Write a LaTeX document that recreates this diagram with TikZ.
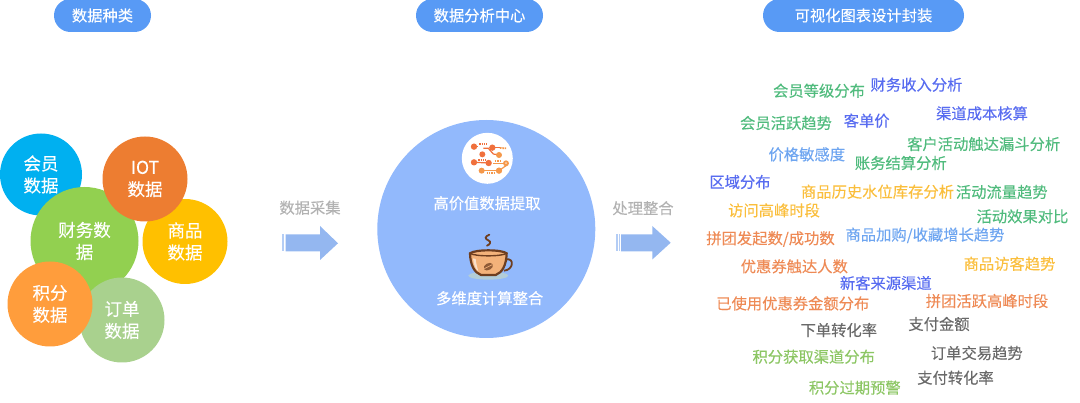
\documentclass[tikz,border=0pt]{standalone}
\usepackage{fontspec}
\setmainfont{Noto Sans CJK SC}[FakeBold=0.2]
\definecolor{PillBlue}{RGB}{88,154,245}
\definecolor{HubBlue}{RGB}{146,185,252}
\definecolor{ArrowBlue}{RGB}{148,183,240}
\definecolor{CaptionGray}{RGB}{178,178,178}
\definecolor{MemberCyan}{RGB}{0,176,240}
\definecolor{IotOrange}{RGB}{237,125,49}
\definecolor{GoodsYellow}{RGB}{255,192,0}
\definecolor{FinanceGreen}{RGB}{146,208,80}
\definecolor{PointsOrange}{RGB}{255,157,60}
\definecolor{OrderGreen}{RGB}{169,209,142}
\definecolor{WordGreen}{RGB}{80,187,125}
\definecolor{WordIndigo}{RGB}{88,108,240}
\definecolor{WordSky}{RGB}{110,165,240}
\definecolor{WordYellow}{RGB}{250,190,60}
\definecolor{WordOrange}{RGB}{238,138,85}
\definecolor{WordGray}{RGB}{105,105,105}
\definecolor{WordLime}{RGB}{140,198,100}
\definecolor{CircuitRed}{RGB}{240,112,60}
\definecolor{CircuitOrange}{RGB}{245,152,74}
\definecolor{CupBrown}{RGB}{110,62,32}
\definecolor{CupFill}{RGB}{243,178,122}
\definecolor{CupShadow}{RGB}{178,205,216}
\usepackage{tikz}
\usetikzlibrary{
    positioning
}

\begin{document}
\begin{tikzpicture}[
    x=1pt,
    y=-1pt,
    pillhead/.style={
        fill=PillBlue,
        text=white,
        rounded corners=16.5pt,
        minimum height=33pt,
        inner sep=0pt,
        font=\fontsize{15.3}{18}\selectfont
    },
    datacircle/.style={
        circle,
        inner sep=0pt,
        minimum size=85pt,
        text=white,
        align=center,
        font=\fontsize{17.5}{22}\selectfont
    },
    hubcaption/.style={
        text=white,
        inner sep=0pt,
        font=\fontsize{15.3}{18}\selectfont
    },
    flowcaption/.style={
        text=CaptionGray,
        inner sep=0pt,
        font=\fontsize{15.3}{18}\selectfont
    },
    chartword/.style={
        inner sep=0pt,
        font=\fontsize{15.3}{18}\selectfont
    }
]
%
    \useasboundingbox (0,0) rectangle (1080,403);
%
    \node[pillhead, minimum width=97pt] (pillKinds) at (102.5,15.5) {数据种类};
    \node[pillhead, minimum width=127pt] (pillCenter) at (479.5,15.5) {数据分析中心};
    \node[pillhead, minimum width=201pt] (pillCharts) at (863.5,15.5) {可视化图表设计封装};
%
    % data circles, back to front
    \node[datacircle, fill=MemberCyan, minimum size=82pt] (circMember) at (41,174.5) {会员\\数据};
    \node[datacircle, fill=FinanceGreen, minimum size=108pt] (circFinance) at (84.5,241) {财务数\\据};
    \node[datacircle, fill=GoodsYellow] (circGoods) at (185,241.5) {商品\\数据};
    \node[datacircle, fill=IotOrange] (circIot) at (145,179) {IOT\\数据};
    \node[datacircle, fill=OrderGreen] (circOrder) at (122,320) {订单\\数据};
    \node[datacircle, fill=PointsOrange] (circPoints) at (50,304) {积分\\数据};
%
    \node[
        flowcaption
    ]
    (capCollect) at (310,207.7) {数据采集};
%
    \fill[ArrowBlue]
    (285.5,234.5) -- (320,234.5) -- (320,226) -- (338,243.3)
    -- (320,260) -- (320,251.5) -- (285.5,251.5) -- cycle;
    \fill[ArrowBlue!70] (282.3,234.5) rectangle (284.3,251.5);
%
    \node[
        circle,
        fill=HubBlue,
        inner sep=0pt,
        minimum size=218pt
    ]
    (hubCircle) at (486.3,229) {};
%
    \node[
        circle,
        fill=white,
        inner sep=0pt,
        minimum size=51pt
    ]
    (iconDisc) at (487.3,158.3) {};
%
    % circuit icon
    \begin{scope}[shift={(450,130)},x=0.3333pt,y=-0.3333pt]
        \draw[CircuitRed, line width=1.2pt] (72,50) -- (85,50);
        \draw[CircuitRed, line width=2pt, dash pattern=on 1.5pt off 0.8pt] (88,43) -- (112,43);
        \draw[CircuitRed, line width=1.2pt] (127,53) -- (150,53);
        \draw[CircuitOrange, line width=1.8pt, dash pattern=on 1.5pt off 0.8pt] (150,54) -- (170,55);
        \draw[CircuitRed, line width=1.2pt] (100,55) -- (115,55) -- (130,72) -- (147,75);
        \fill[CircuitRed] (72,50) circle[radius=9.5];
        \fill[CircuitRed] (127,53) circle[radius=9.5];
        \fill[CircuitRed] (97,73) circle[radius=9];
        \fill[CircuitOrange] (147,75) circle[radius=9];
%
        \draw[CircuitRed, line width=1.2pt] (72,97) -- (116,99);
        \draw[CircuitRed, line width=2pt, dash pattern=on 1.5pt off 0.8pt] (85,90) -- (106,90);
        \fill[CircuitRed] (72,97) circle[radius=9.5];
        \fill[CircuitRed] (116,99) circle[radius=9.5];
%
        \draw[CircuitOrange, line width=2pt, dash pattern=on 1.5pt off 0.8pt] (135,92) -- (155,92);
        \draw[CircuitOrange, line width=1.2pt] (130,100) -- (160,100);
        \draw[CircuitOrange, line width=1.2pt] (168,100) -- (168,107) -- (150,120);
        \draw[CircuitOrange, line width=1.8pt] (168,100) circle[radius=6];
        \draw[CircuitOrange, line width=1.2pt] (95,122) -- (147,122);
        \draw[CircuitOrange, line width=2pt, dash pattern=on 1.5pt off 0.8pt] (110,128) -- (132,128);
        \fill[CircuitOrange] (95,122) circle[radius=9];
        \fill[CircuitOrange] (147,122) circle[radius=9.5];
    \end{scope}
%
    \node[
        hubcaption
    ]
    (capExtract) at (487,203.3) {高价值数据提取};
%
    % coffee cup icon
    \begin{scope}[shift={(455,230)},x=0.3333pt,y=-0.3333pt]
        \fill[CupShadow] (100,137) ellipse[x radius=60, y radius=12];
        \draw[CupBrown, line width=1.8pt, line cap=round]
        (103,14) .. controls (88,20) and (90,27) .. (100,31)
        .. controls (110,35) and (105,44) .. (96,47);
        \draw[CupBrown, line width=1.8pt]
        (155,88) .. controls (178,84) and (176,120) .. (147,122);
        \draw[CupBrown, fill=CupFill, line width=2.2pt]
        (45,70) .. controls (46,105) and (58,128) .. (78,135)
        -- (122,135) .. controls (142,128) and (154,105) .. (155,70)
        .. controls (140,58) and (60,58) .. (45,70) -- cycle;
        \draw[CupBrown, line width=1.4pt]
        (45,70) .. controls (60,80) and (140,80) .. (155,70);
        \fill[white!60!CupFill] (54,85) .. controls (56,105) and (62,118) .. (70,124)
        .. controls (66,110) and (63,98) .. (62,87) -- cycle;
        \fill[CupBrown!75!CupFill, rotate around={30:(100,110)}] (100,110) ellipse[x radius=15, y radius=10];
        \draw[CupFill, line width=0.6pt] (88,116) .. controls (96,112) and (104,108) .. (112,104);
    \end{scope}
%
    \node[
        hubcaption
    ]
    (capCompute) at (489.7,298.2) {多维度计算整合};
%
    \node[
        flowcaption
    ]
    (capMerge) at (643,208.2) {处理整合};
%
    \fill[ArrowBlue]
    (621,234.5) -- (652.3,234.5) -- (652.3,226) -- (670.7,242.7)
    -- (652.3,259.5) -- (652.3,251.5) -- (621,251.5) -- cycle;
    \fill[ArrowBlue!70] (616,234.5) rectangle (617.5,251.5);
    \fill[ArrowBlue!70] (618.7,234.5) rectangle (620.2,251.5);
%
    % word cloud
    \begin{scope}[chartword, yshift=-0.7pt]
        \node[text=WordGreen] (wordLevel) at (819,90) {会员等级分布};
        \node[text=WordIndigo] (wordIncome) at (916.5,84) {财务收入分析};
        \node[text=WordIndigo] (wordCost) at (982,112.7) {渠道成本核算};
        \node[text=WordGreen] (wordActive) at (786,122.3) {会员活跃趋势};
        \node[text=WordIndigo] (wordPrice) at (866.7,120) {客单价};
        \node[text=WordGreen] (wordFunnel) at (983.7,143.3) {客户活动触达漏斗分析};
        \node[text=WordSky] (wordSensitive) at (806.8,153.7) {价格敏感度};
        \node[text=WordGreen] (wordSettle) at (900.8,162.3) {账务结算分析};
        \node[text=WordIndigo] (wordRegion) at (740,181.3) {区域分布};
        \node[text=WordYellow] (wordStock) at (877.5,191) {商品历史水位库存分析};
        \node[text=WordGreen] (wordFlow) at (1001.8,191.3) {活动流量趋势};
        \node[text=WordYellow] (wordPeak) at (774,209.7) {访问高峰时段};
        \node[text=WordGreen] (wordEffect) at (1022.5,215.7) {活动效果对比};
        \node[text=WordSky] (wordCart) at (925,234.7) {商品加购/收藏增长趋势};
        \node[text=WordOrange] (wordGroup) at (770.5,238.3) {拼团发起数/成功数};
        \node[text=WordOrange] (wordCoupon) at (794.3,265.7) {优惠券触达人数};
        \node[text=WordYellow] (wordVisitor) at (1009.5,263) {商品访客趋势};
        \node[text=WordIndigo] (wordSource) at (885.8,282.3) {新客来源渠道};
        \node[text=WordOrange] (wordGroupPeak) at (987,300.3) {拼团活跃高峰时段};
        \node[text=WordOrange] (wordUsed) at (792.8,302.7) {已使用优惠券金额分布};
        \node[text=WordGray] (wordPayAmount) at (939,323.3) {支付金额};
        \node[text=WordGray] (wordOrderRate) at (838.8,329.3) {下单转化率};
        \node[text=WordLime] (wordPointsSource) at (813.7,356) {积分获取渠道分布};
        \node[text=WordGray] (wordTrade) at (976.8,352.3) {订单交易趋势};
        \node[text=WordGray] (wordPayRate) at (955.5,377) {支付转化率};
        \node[text=WordLime] (wordExpire) at (854.8,387) {积分过期预警};
    \end{scope}
%
\end{tikzpicture}
\end{document}
